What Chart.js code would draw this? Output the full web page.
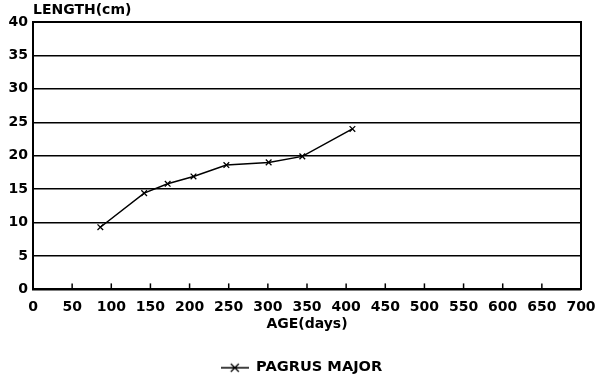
<!DOCTYPE html>
<html>
<head>
<meta charset="utf-8">
<script src="https://cdn.jsdelivr.net/npm/chart.js@4.4.1/dist/chart.umd.min.js"></script>
<style>
  html, body { margin: 0; padding: 0; background: #fff; }
  #wrap { width: 600px; height: 385px; position: relative; }
</style>
</head>
<body>
<div id="wrap"><canvas id="c"></canvas></div>
<script>
// values
const ageDays = [86, 142, 172, 205, 247, 301, 344, 408];
const lengthCm = [9.3, 14.4, 15.8, 16.9, 18.6, 19.0, 19.9, 24.0];
const seriesName = 'PAGRUS MAJOR';
const yTitle = 'LENGTH(cm)';
const xTitle = 'AGE(days)';

const FONT = '"DejaVu Sans", Verdana, sans-serif';

// legend swatch: short line with an x on it
function legendSwatch() {
  const cv = document.createElement('canvas');
  cv.width = 28; cv.height = 12;
  const g = cv.getContext('2d');
  g.strokeStyle = '#000';
  g.lineWidth = 1.3;
  g.beginPath();
  g.moveTo(0, 6); g.lineTo(28, 6);
  g.moveTo(10, 2); g.lineTo(18, 10);
  g.moveTo(18, 2); g.lineTo(10, 10);
  g.stroke();
  return cv;
}

const extras = {
  id: 'extras',
  afterLayout(chart) {
    // legend sits a little right of the page centre
    if (chart.legend) {
      chart.legend.left += 11;
      chart.legend.right += 11;
    }
  },
  afterDraw(chart) {
    const { ctx, chartArea, scales } = chart;
    ctx.save();
    // inward ticks along the x axis
    ctx.strokeStyle = '#000';
    ctx.lineWidth = 1.5;
    scales.x.ticks.forEach(t => {
      const px = scales.x.getPixelForValue(t.value);
      if (px <= chartArea.left + 1 || px >= chartArea.right - 1) return;
      ctx.beginPath();
      ctx.moveTo(px, chartArea.bottom);
      ctx.lineTo(px, chartArea.bottom - 6);
      ctx.stroke();
    });
    // y title above the axis
    ctx.fillStyle = '#000';
    ctx.font = 'bold 14px ' + FONT;
    ctx.textAlign = 'left';
    ctx.textBaseline = 'middle';
    ctx.fillText(yTitle, chartArea.left, 10);
    ctx.restore();
  }
};

function noOverhang(scale) {
  scale.paddingLeft = 0;
  scale.paddingRight = 0;
}

new Chart(document.getElementById('c').getContext('2d'), {
  type: 'line',
  data: {
    datasets: [{
      label: seriesName,
      data: ageDays.map((a, i) => ({ x: a, y: lengthCm[i] })),
      borderColor: '#000',
      borderWidth: 1.5,
      pointStyle: 'crossRot',
      pointRadius: 4,
      pointBorderWidth: 1.3,
      pointBorderColor: '#000',
      tension: 0,
      fill: false
    }]
  },
  options: {
    responsive: true,
    maintainAspectRatio: false,
    animation: false,
    layout: { padding: { top: 22, right: 19, left: 0, bottom: 0 } },
    plugins: {
      tooltip: { enabled: false },
      legend: {
        position: 'bottom',
        labels: {
          color: '#000',
          font: { family: FONT, size: 14.6, weight: 'bold' },
          usePointStyle: true,
          pointStyleWidth: 28,
          padding: 10,
          generateLabels(chart) {
            return [{
              text: seriesName,
              pointStyle: legendSwatch(),
              fillStyle: '#000',
              strokeStyle: '#000',
              fontColor: '#000',
              lineWidth: 0,
              datasetIndex: 0
            }];
          }
        }
      }
    },
    scales: {
      x: {
        type: 'linear',
        min: 0,
        max: 700,
        ticks: {
          stepSize: 50,
          color: '#000',
          font: { family: FONT, size: 14, weight: 'bold' },
          padding: 10,
          maxRotation: 0
        },
        grid: { display: false, drawTicks: false },
        border: { display: true, color: '#000', width: 2 },
        title: {
          display: true,
          text: xTitle,
          color: '#000',
          font: { family: FONT, size: 14, weight: 'bold' },
          padding: { top: 0, bottom: 18 }
        },
        afterFit(scale) { scale.height = 61; noOverhang(scale); }
      },
      y: {
        min: 0,
        max: 40,
        ticks: {
          stepSize: 5,
          color: '#000',
          font: { family: FONT, size: 14, weight: 'bold' },
          padding: 5
        },
        grid: { color: '#000', lineWidth: 1.5, drawTicks: false },
        border: { display: true, color: '#000', width: 2 },
        afterFit(scale) { scale.width = 33; }
      },
      y2: {
        position: 'right',
        min: 0,
        max: 40,
        ticks: { display: false },
        grid: { display: false, drawTicks: false },
        border: { display: true, color: '#000', width: 2 },
        afterFit(scale) { scale.width = 0; }
      },
      x2: {
        position: 'top',
        type: 'linear',
        min: 0,
        max: 700,
        ticks: { display: false },
        grid: { display: false, drawTicks: false },
        border: { display: true, color: '#000', width: 2 },
        afterFit(scale) { scale.height = 0; noOverhang(scale); }
      }
    }
  },
  plugins: [extras]
});
</script>
</body>
</html>
